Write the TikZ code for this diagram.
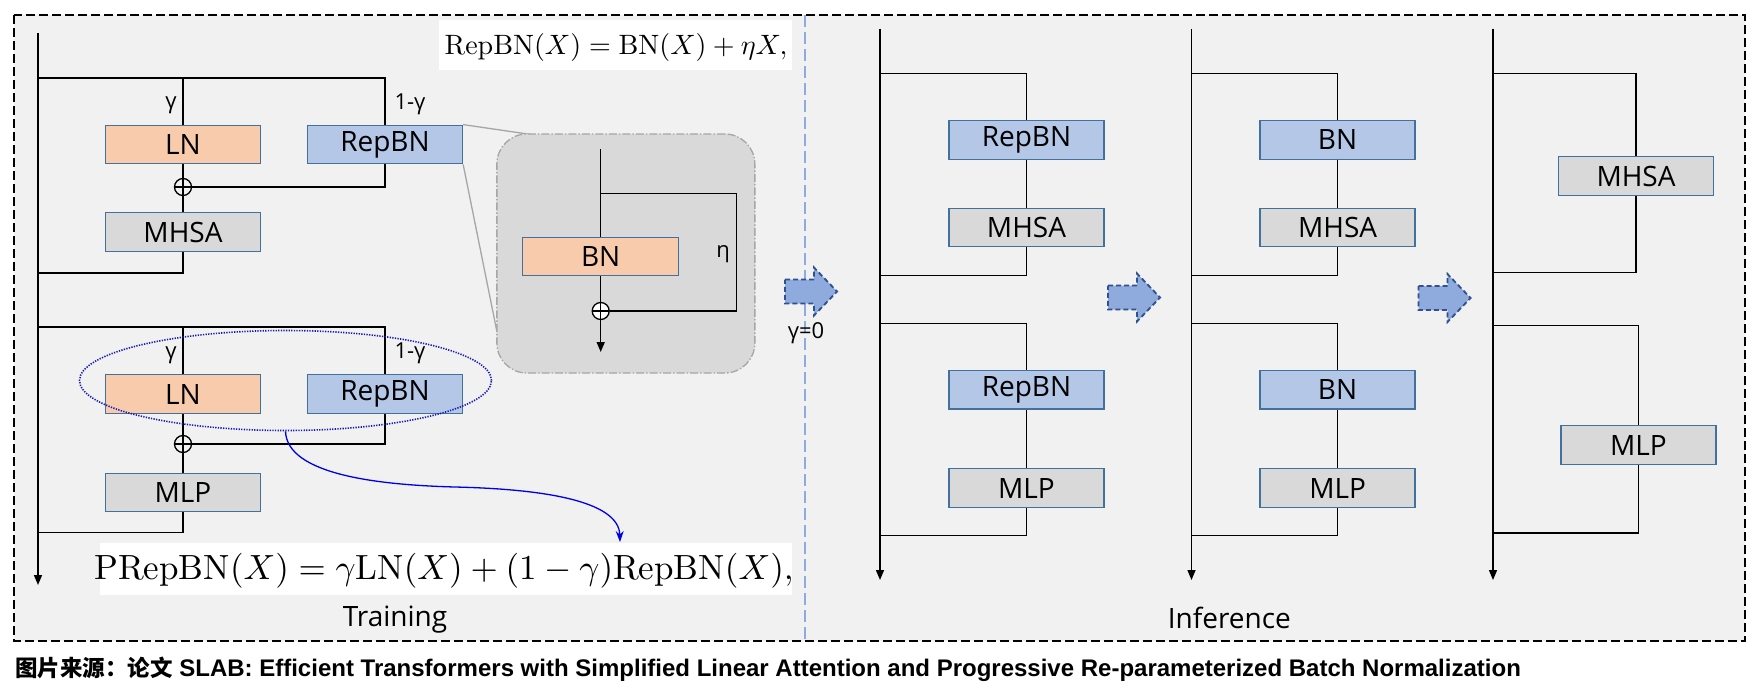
\documentclass[tikz,border=0pt]{standalone}
\usepackage{fontspec}
\usetikzlibrary{arrows.meta,calc,shapes.geometric}
\newfontfamily\labfont{Open Sans}
\newfontfamily\capfont{Liberation Sans}
\newfontfamily\cjkfont{Noto Sans CJK SC}
\definecolor{panelbg}{HTML}{F1F1F1}
\definecolor{lnfill}{HTML}{F8CBAD}
\definecolor{bnfill}{HTML}{B4C7E7}
\definecolor{grayfill}{HTML}{D9D9D9}
\definecolor{boxline}{HTML}{41719C}
\definecolor{zoomline}{HTML}{A6A6A6}
\definecolor{arrowfill}{HTML}{8FAADC}
\definecolor{arrowline}{HTML}{2F528F}
\definecolor{divline}{HTML}{8FAADC}
\definecolor{ellblue}{HTML}{1A1AB4}
\definecolor{curveblue}{HTML}{0000E6}
\tikzset{
  wire/.style={line width=1.5pt, draw=black},
  flow/.style={wire, -{Triangle[length=10pt,width=8pt]}},
  blk/.style={draw=boxline, line width=1.3pt, minimum width=155pt, minimum height=38.5pt, inner sep=0pt, font=\labfont\fontsize{28}{32}\selectfont},
  lnbox/.style={blk, fill=lnfill},
  bnbox/.style={blk, fill=bnfill},
  opbox/.style={blk, fill=grayfill},
  plus/.style={circle, draw=black, line width=1.3pt, minimum size=17pt, inner sep=0pt, fill=panelbg,
    path picture={\draw[line width=1.1pt] (path picture bounding box.north) -- (path picture bounding box.south)
      (path picture bounding box.west) -- (path picture bounding box.east);}},
  smalllab/.style={font=\labfont\fontsize{22}{26}\selectfont, inner sep=0pt},
  biglab/.style={font=\labfont\fontsize{28}{32}\selectfont, inner sep=0pt},
  bigarrow/.pic={\filldraw[fill=arrowfill, draw=arrowline, line width=1.8pt, dash pattern=on 5pt off 3pt, line join=miter]
    (0,-12) -- (29,-12) -- (29,-24) -- (52,0) -- (29,24) -- (29,12) -- (0,12) -- cycle;}
}
\begin{document}
\begin{tikzpicture}[x=1pt,y=-1pt]
\useasboundingbox (0,0) rectangle (1762,691);
% frame and divider
\filldraw[fill=panelbg, draw=black, line width=1.3pt, dash pattern=on 9pt off 4pt] (14,15) rectangle (1745,641);
\draw[divline, line width=1.5pt, dash pattern=on 12pt off 5pt] (805,15) -- (805,641);

% ---------------- Training panel ----------------
\coordinate (Ltop) at (38,33);
\coordinate (Lend) at (38,585);
\draw[flow] (Ltop) -- (Lend);
% block 1
\coordinate (b1) at (38,78);
\coordinate (r1) at (38,273);
\node[lnbox] (ln1) at (183,144.5) {LN};
\node[bnbox] (rb1) at (385,144.5) {RepBN};
\node[plus] (p1) at (183,187) {};
\node[opbox] (mh1) at (183,232) {MHSA};
\draw[wire] (b1) -| (rb1.north);
\draw[wire] (ln1.north |- b1) -- (ln1.north);
\draw[wire] (ln1.south) -- (p1.north);
\draw[wire] (rb1.south) |- (p1.east);
\draw[wire] (p1.south) -- (mh1.north);
\draw[wire] (mh1.south) |- (r1);
\node[smalllab] (g1) at (171,105) {γ};
\node[smalllab] (h1) at (410,104) {1-γ};
% block 2
\coordinate (b2) at (38,327);
\coordinate (r2) at (38,532.7);
\node[lnbox] (ln2) at (183,394) {LN};
\node[bnbox] (rb2) at (385,394) {RepBN};
\node[plus] (p2) at (183,444) {};
\node[opbox] (ml1) at (183,492.5) {MLP};
\draw[wire] (b2) -| (rb2.north);
\draw[wire] (ln2.north |- b2) -- (ln2.north);
\draw[wire] (ln2.south) -- (p2.north);
\draw[wire] (rb2.south) |- (p2.east);
\draw[wire] (p2.south) -- (ml1.north);
\draw[wire] (ml1.south) |- (r2);
\node[smalllab] (g2) at (171,355) {γ};
\node[smalllab] (h2) at (410,353) {1-γ};

% highlight ellipse and curved arrow
\node[ellipse, draw=ellblue, line width=1.6pt, dash pattern=on 1.3pt off 1.3pt, minimum width=412pt, minimum height=100pt, inner sep=0pt] (ell) at (285.5,380.5) {};
\coordinate (cm) at (455,487);
\coordinate (ce) at (620,542);
\draw[curveblue, line width=1.3pt, -{Stealth[length=11pt,width=8pt]}] (ell.south) .. controls (287,475) and (380,485) .. (cm) .. controls (540,489) and (619,500) .. (ce);

% formulas
\node[fill=white, minimum width=353pt, minimum height=50pt, inner sep=0pt] (f1box) at (615.5,45) {};
\node[scale=2.8, inner sep=0pt] (f1) at (616,47) {$\mathrm{RepBN}(X)=\mathrm{BN}(X)+\eta X,$};
\node[fill=white, minimum width=692pt, minimum height=52pt, inner sep=0pt] (f2box) at (446,569) {};
\node[scale=3.5, inner sep=0pt] (f2) at (444,571) {$\mathrm{PRepBN}(X)=\gamma\mathrm{LN}(X)+(1-\gamma)\mathrm{RepBN}(X),$};

% zoom box
\coordinate (zA) at (531,134.5);
\coordinate (zB) at (497,332);
\draw[zoomline, line width=1.3pt] (rb1.north east) -- (zA);
\draw[zoomline, line width=1.3pt] (rb1.south east) -- (zB);
\node[draw=zoomline, fill=grayfill, rounded corners=30pt, line width=1.3pt, dash pattern=on 8pt off 2pt on 1.5pt off 2pt, minimum width=258pt, minimum height=239pt, inner sep=0pt] (zoom) at (625.85,253.5) {};
\coordinate (ztop) at (600.7,149.3);
\coordinate (zbr) at (600.7,193.3);
\coordinate (zbrR) at (736.7,193.3);
\coordinate (zend) at (600.7,352);
\node[lnbox, minimum width=156pt] (bnz) at (600.7,256.5) {BN};
\node[plus, fill=white] (pz) at (600.7,311) {};
\draw[wire] (ztop) -- (bnz.north);
\draw[wire] (bnz.south) -- (pz.north);
\draw[wire] (zbr) -- (zbrR) |- (pz.east);
\draw[flow] (pz.south) -- (zend);
\node[smalllab] (eta) at (723,254) {η};

\node[biglab] (train) at (395,620) {Training};

% ---------------- Inference panel ----------------
\pic (ar1) at (785,291.5) {bigarrow};
\node[smalllab] (g0) at (806,333) {γ=0};
\pic (ar2) at (1108,297.5) {bigarrow};
\pic (ar3) at (1418.5,298) {bigarrow};

% column 1
\coordinate (aTop) at (880,28.6);
\coordinate (aEnd) at (880,580);
\draw[flow] (aTop) -- (aEnd);
\coordinate (aB1) at (880,73.5);
\coordinate (aR1) at (880,275.5);
\coordinate (aB2) at (880,323.3);
\coordinate (aR2) at (880,535.5);
\node[bnbox] (arb1) at (1026.5,140) {RepBN};
\node[opbox] (amh) at (1026.5,227.5) {MHSA};
\node[bnbox] (arb2) at (1026.5,389.7) {RepBN};
\node[opbox] (aml) at (1026.5,488) {MLP};
\draw[wire] (aB1) -| (arb1.north);
\draw[wire] (arb1.south) -- (amh.north);
\draw[wire] (amh.south) |- (aR1);
\draw[wire] (aB2) -| (arb2.north);
\draw[wire] (arb2.south) -- (aml.north);
\draw[wire] (aml.south) |- (aR2);

% column 2
\coordinate (bTop) at (1191.5,28.6);
\coordinate (bEnd) at (1191.5,580);
\draw[flow] (bTop) -- (bEnd);
\coordinate (bB1) at (1191.5,73.5);
\coordinate (bR1) at (1191.5,275.5);
\coordinate (bB2) at (1191.5,323.3);
\coordinate (bR2) at (1191.5,535.5);
\node[bnbox] (bbn1) at (1337.6,140) {BN};
\node[opbox] (bmh) at (1337.6,227.5) {MHSA};
\node[bnbox] (bbn2) at (1337.6,389.7) {BN};
\node[opbox] (bml) at (1337.6,488) {MLP};
\draw[wire] (bB1) -| (bbn1.north);
\draw[wire] (bbn1.south) -- (bmh.north);
\draw[wire] (bmh.south) |- (bR1);
\draw[wire] (bB2) -| (bbn2.north);
\draw[wire] (bbn2.south) -- (bml.north);
\draw[wire] (bml.south) |- (bR2);

% column 3
\coordinate (cTop) at (1493,28.6);
\coordinate (cEnd) at (1493,580);
\draw[flow] (cTop) -- (cEnd);
\coordinate (cB1) at (1493,73.5);
\coordinate (cR1) at (1493,272.7);
\coordinate (cB2) at (1493,325.3);
\coordinate (cR2) at (1493,533);
\node[opbox] (cmh) at (1636,176) {MHSA};
\node[opbox] (cml) at (1638.5,445) {MLP};
\draw[wire] (cB1) -| (cmh.north);
\draw[wire] (cmh.south) |- (cR1);
\draw[wire] (cB2) -| (cml.north);
\draw[wire] (cml.south) |- (cR2);

\node[biglab] (infer) at (1229.4,618) {Inference};

% caption
\node[anchor=base west, inner sep=0pt, font=\bfseries] (cap) at (15,676)
  {{\cjkfont\fontsize{22.5}{26}\selectfont 图片来源：论文}{\capfont\fontsize{24}{26}\selectfont\ SLAB: Efficient Transformers with Simplified Linear Attention and Progressive Re-parameterized Batch Normalization}};
\end{tikzpicture}
\end{document}
